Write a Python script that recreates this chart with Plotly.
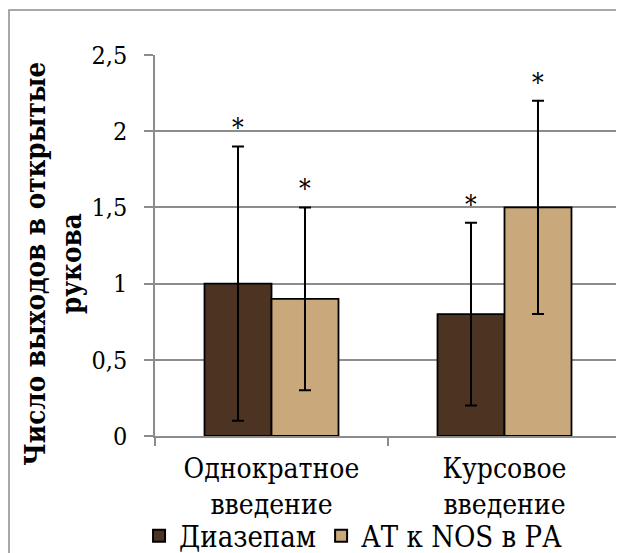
import plotly.graph_objects as go

categories = ["Однократное<br>введение", "Курсовое<br>введение"]
series_names = ["Диазепам", "АТ к NOS в РА"]
diazepam = [1.0, 0.8]
diazepam_err = [0.9, 0.6]
at_nos = [0.9, 1.5]
at_nos_err = [0.6, 0.7]
star_labels = ["*", "*"]
y_ticks = [0, 0.5, 1, 1.5, 2, 2.5]

colors = ["#4d3322", "#c9a87c"]
FONT = "DejaVu Serif Condensed, DejaVu Serif, serif"
BARGAP = 0.425

fig = go.Figure()
for name, vals, errs, col in zip(series_names, [diazepam, at_nos], [diazepam_err, at_nos_err], colors):
    fig.add_trace(go.Bar(
        name=name, x=categories, y=vals,
        marker=dict(color=col, line=dict(color="#000000", width=1.8)),
        error_y=dict(type="data", array=errs, visible=True, color="#000000", thickness=2, width=6),
    ))

w = (1 - BARGAP) / 2
offsets = [-w / 2, w / 2]
annotations = []
for si, (vals, errs) in enumerate([(diazepam, diazepam_err), (at_nos, at_nos_err)]):
    for ci, (v, e) in enumerate(zip(vals, errs)):
        annotations.append(dict(
            x=ci + offsets[si], y=v + e, xref="x", yref="y", text=star_labels[si],
            showarrow=False, yanchor="bottom", yshift=1,
            font=dict(family=FONT, size=26, color="#000000"),
        ))

annotations.append(dict(
    x=-0.219, y=0.452, xref="paper", yref="paper", textangle=-90,
    text="<b>Число выходов в открытые<br>рукова</b>", showarrow=False,
    xanchor="center", yanchor="middle", align="center",
    font=dict(family=FONT, size=27.5, color="#000000"),
))

fig.update_layout(
    width=616, height=545,
    margin=dict(l=147, r=3, t=47, b=117, autoexpand=False),
    paper_bgcolor="#ffffff", plot_bgcolor="#ffffff",
    separators=", ",
    barmode="group", bargap=BARGAP, bargroupgap=0,
    font=dict(family=FONT, color="#000000"),
    annotations=annotations,
    legend=dict(orientation="h", x=0.425, y=-0.262, xanchor="center", yanchor="middle",
                bgcolor="rgba(0,0,0,0)", itemwidth=30,
                font=dict(family=FONT, size=29, color="#000000"), itemsizing="constant"),
    shapes=[dict(type="rect", xref="paper", yref="paper", x0=-0.3133, x1=1.05, y0=-0.35, y1=1.118,
                 line=dict(color="#8c8c8c", width=1.5), fillcolor="rgba(0,0,0,0)", layer="below")],
)
fig.update_yaxes(
    range=[0, 2.5], tickvals=y_ticks, showgrid=True, gridcolor="#8c8c8c", gridwidth=1.5,
    showline=True, linecolor="#8c8c8c", linewidth=1.5, ticks="outside", ticklen=9,
    tickcolor="#8c8c8c", tickwidth=1.5, ticklabelstandoff=12, zeroline=False, automargin=False,
    tickfont=dict(family=FONT, size=25, color="#000000"),
)
fig.update_xaxes(
    showline=True, linecolor="#8c8c8c", linewidth=2, ticks="outside", ticklen=8,
    tickson="boundaries", tickcolor="#8c8c8c", tickwidth=1.5, ticklabelstandoff=6, automargin=False,
    tickfont=dict(family=FONT, size=28, color="#000000"),
)

fig.write_html("out.html")
